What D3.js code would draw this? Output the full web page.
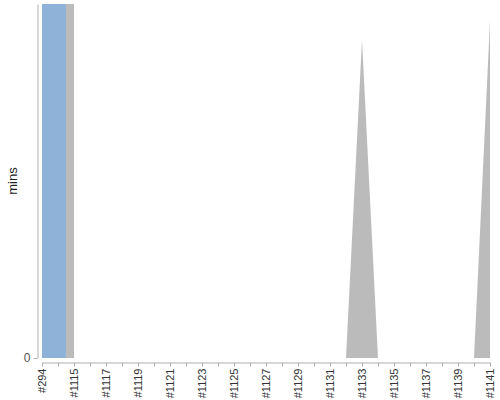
<!DOCTYPE html>
<html>
<head>
<meta charset="utf-8">
<script src="https://cdn.jsdelivr.net/npm/d3@7"></script>
<style>
  body { margin: 0; background: #fff; }
  text { font-family: "Liberation Sans", Arial, sans-serif; }
</style>
</head>
<body>
<div id="chart"></div>
<script>
// Build time trend: one duration per build, coloured by the build result.

var builds = ["#294", "#1114", "#1115", "#1116", "#1117", "#1118", "#1119", "#1120",
  "#1121", "#1122", "#1123", "#1124", "#1125", "#1126", "#1127", "#1128", "#1129",
  "#1130", "#1131", "#1132", "#1133", "#1134", "#1135", "#1136", "#1137", "#1138",
  "#1139", "#1140", "#1141"];

// minutes; the first two builds are far off the top of the scale
var durations = [1500, 1500, 0, 0, 0, 0, 0, 0,
  0, 0, 0, 0, 0, 0, 0, 0, 0,
  0, 0, 0, 0.85, 0, 0, 0, 0, 0,
  0, 0, 0.9];

var results = ["SUCCESS", "SUCCESS", "ABORTED", "ABORTED", "ABORTED", "ABORTED", "ABORTED", "ABORTED",
  "ABORTED", "ABORTED", "ABORTED", "ABORTED", "ABORTED", "ABORTED", "ABORTED", "ABORTED", "ABORTED",
  "ABORTED", "ABORTED", "ABORTED", "ABORTED", "ABORTED", "ABORTED", "ABORTED", "ABORTED", "ABORTED",
  "ABORTED", "ABORTED", "ABORTED"];

var resultColor = { SUCCESS: "#729FCF", FAILURE: "#EF2929", UNSTABLE: "#FCE94F", ABORTED: "#ABABAB" };

// upper end of the range axis (5% above the tallest on-scale build)
var yMax = 0.945;

var width = 500, height = 400;
var plot = { left: 42, right: 490, top: 4, bottom: 358 };

var svg = d3.select("#chart").append("svg")
    .attr("width", width)
    .attr("height", height);

var x = d3.scalePoint()
    .domain(builds)
    .range([plot.left, plot.right]);

var y = d3.scaleLinear()
    .domain([0, yMax])
    .range([plot.bottom, plot.top]);

svg.append("clipPath")
    .attr("id", "plotClip")
  .append("rect")
    .attr("x", plot.left)
    .attr("y", plot.top)
    .attr("width", plot.right - plot.left)
    .attr("height", plot.bottom - plot.top);

// Each segment between two builds is drawn in two halves, the left half in the
// colour of the previous build and the right half in the colour of the current one.
var halves = [];
for (var c = 1; c < builds.length; c++) {
  var x0 = Math.round(x(builds[c - 1])),
      x1 = Math.round(x(builds[c])),
      xm = Math.round((x0 + x1) / 2),
      yy0 = Math.round(y(durations[c - 1])),
      yy1 = Math.round(y(durations[c])),
      ym = Math.round((yy0 + yy1) / 2),
      base = Math.round(y(0));
  halves.push({ result: results[c - 1], pts: [[x0, yy0], [xm, ym], [xm, base], [x0, base]] });
  halves.push({ result: results[c], pts: [[x1, yy1], [xm, ym], [xm, base], [x1, base]] });
}

svg.append("g")
    .attr("clip-path", "url(#plotClip)")
    .attr("opacity", 0.8)
  .selectAll("path")
  .data(halves)
  .enter().append("path")
    .attr("d", function(d) { return "M" + d.pts.join("L") + "Z"; })
    .style("fill", function(d) { return resultColor[d.result]; });

// Range axis (integer tick units only)
var yAxis = svg.append("g")
    .attr("transform", "translate(37.5,0)")
    .call(d3.axisLeft(y)
      .tickValues(y.ticks().filter(Number.isInteger))
      .tickFormat(d3.format("d"))
      .tickSize(4)
      .tickSizeOuter(0)
      .tickPadding(3));

// Domain axis
var xAxis = svg.append("g")
    .attr("transform", "translate(0,362.5)")
    .call(d3.axisBottom(x)
      .tickSize(4)
      .tickSizeOuter(0)
      .tickFormat(function(d, i) { return i % 2 === 0 ? d : ""; }));

xAxis.selectAll("text")
    .attr("y", 0)
    .attr("x", -6)
    .attr("dy", "0.35em")
    .attr("transform", "rotate(-90)")
    .style("text-anchor", "end");

svg.selectAll(".domain, .tick line").style("stroke", "#b0b0b0");
svg.selectAll(".tick text")
    .style("font-family", "'Liberation Sans', Arial, sans-serif")
    .style("font-size", "11px")
    .style("fill", "#333");

yAxis.selectAll(".tick text")
    .style("font-size", "12px")
    .style("fill", "#555");

svg.append("text")
    .attr("transform", "translate(17," + ((plot.top + plot.bottom) / 2) + ") rotate(-90)")
    .style("text-anchor", "middle")
    .style("font-size", "13px")
    .style("fill", "#222")
    .text("mins");
</script>
</body>
</html>
